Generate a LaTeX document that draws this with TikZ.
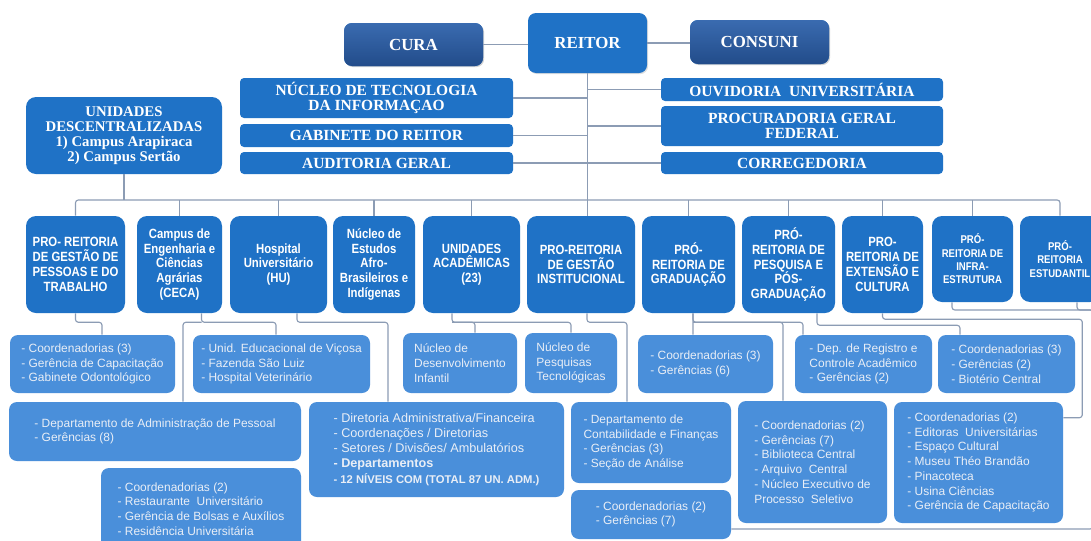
\documentclass[tikz,border=0pt]{standalone}
\usepackage{fontspec}
\setmainfont{Liberation Serif}
\newfontfamily\headfont{Liberation Sans}[FakeStretch=0.85]
\newfontfamily\subfont{Liberation Sans}
\usetikzlibrary{calc,shadows}
\definecolor{topblue}{HTML}{1F72C6}
\definecolor{subblue}{HTML}{4A8FDA}
\definecolor{councillight}{HTML}{3A6BB0}
\definecolor{councildark}{HTML}{224C8A}
\definecolor{linkgray}{HTML}{8C9CB4}
\definecolor{subtext}{HTML}{E9EEF6}
\tikzset{
  wh/.style 2 args={minimum width=#1*0.025cm, minimum height=#2*0.025cm},
  topbox/.style={fill=topblue, rounded corners=2mm, text=white, align=center, inner sep=1pt, font=\bfseries\fontsize{11}{10.5}\selectfont},
  councilbox/.style={topbox, top color=councillight, bottom color=councildark, drop shadow={opacity=0.35, shadow xshift=0.8pt, shadow yshift=-0.8pt}, font=\bfseries\fontsize{12}{12}\selectfont},
  barbox/.style={topbox, rounded corners=1mm},
  unitbox/.style={fill=topblue, rounded corners=2.5mm, text=white, align=center, inner sep=1pt, font=\headfont\bfseries\fontsize{9.5}{10.5}\selectfont},
  subbox/.style={fill=subblue, rounded corners=2mm, text=subtext, align=left, inner sep=1pt, font=\subfont\fontsize{8.5}{10.5}\selectfont},
  link/.style={draw=linkgray, line width=0.8pt, rounded corners=2pt}
}
\begin{document}
\begin{tikzpicture}[x=0.025cm, y=-0.025cm]
  \useasboundingbox (0,0) rectangle (1091,540);
  \fill[white] (0,0) rectangle (1091,540);
  \clip (0,0) rectangle (1091,540);

  % councils and rector
  \node[councilbox, wh={139}{43}] (cura) at (413.5,44.5) {CURA};
  \node[topbox, wh={119}{60}, font=\bfseries\fontsize{12}{12}\selectfont, drop shadow={opacity=0.25, shadow xshift=0.8pt, shadow yshift=-0.8pt}] (reitor) at (587.5,43) {REITOR};
  \node[councilbox, wh={139}{44}] (consuni) at (759.5,42) {CONSUNI};

  % staff organs
  \node[barbox, wh={273}{40}] (nti) at (376.5,98) {NÚCLEO DE TECNOLOGIA\\DA INFORMAÇAO};
  \node[barbox, wh={273}{23}] (gab) at (376.5,135.5) {GABINETE DO REITOR};
  \node[barbox, wh={273}{22}] (aud) at (376.5,163) {AUDITORIA GERAL};
  \node[barbox, wh={282}{23}] (ouv) at (802,89.5) {OUVIDORIA\ \ UNIVERSITÁRIA};
  \node[barbox, wh={282}{40}] (proc) at (802,126) {PROCURADORIA GERAL\\FEDERAL};
  \node[barbox, wh={282}{22}] (corr) at (802,163) {CORREGEDORIA};
  \node[topbox, wh={196}{77}, rounded corners=2.5mm, font=\bfseries\fontsize{10.5}{10.7}\selectfont] (unides) at (124,135.5) {UNIDADES\\DESCENTRALIZADAS\\1) Campus Arapiraca\\2) Campus Sertão};

  % units
  \node[unitbox, wh={99}{97}] (progep) at (75.5,264.5) {PRO- REITORIA\\DE GESTÃO DE\\PESSOAS E DO\\TRABALHO};
  \node[unitbox, wh={85}{97}] (ceca) at (179.5,264.5) {Campus de\\Engenharia e\\Ciências\\Agrárias\\(CECA)};
  \node[unitbox, wh={97}{97}] (hu) at (278.5,264.5) {Hospital\\Universitário\\(HU)};
  \node[unitbox, wh={82}{97}] (neabi) at (374,264.5) {Núcleo de\\Estudos\\Afro-\\Brasileiros e\\Indígenas};
  \node[unitbox, wh={97}{97}] (ua) at (471.5,264.5) {UNIDADES\\ACADÊMICAS\\(23)};
  \node[unitbox, wh={108}{97}] (proginst) at (581,264.5) {PRO-REITORIA\\DE GESTÃO\\INSTITUCIONAL};
  \node[unitbox, wh={93}{97}] (prograd) at (688.5,264.5) {PRÓ-\\REITORIA DE\\GRADUAÇÃO};
  \node[unitbox, wh={93}{97}] (propep) at (788.5,264.5) {PRÓ-\\REITORIA DE\\PESQUISA E\\PÓS-\\GRADUAÇÃO};
  \node[unitbox, wh={81}{97}] (proex) at (882.5,264.5) {PRO-\\REITORIA DE\\EXTENSÃO E\\CULTURA};
  \node[unitbox, wh={81}{86}, font=\headfont\bfseries\fontsize{8}{9.5}\selectfont] (pinfra) at (972.5,259) {PRÓ-\\REITORIA DE\\INFRA-\\ESTRUTURA};
  \node[unitbox, wh={80}{86}, font=\headfont\bfseries\fontsize{8}{9.5}\selectfont] (proest) at (1060,259) {PRÓ-\\REITORIA\\ESTUDANTIL};

  % sub-units
  \node[subbox, wh={165}{58}] (progepa) at (92.5,364) {- Coordenadorias (3)\\- Gerência de Capacitação\\- Gabinete Odontológico};
  \node[subbox, wh={177}{58}] (cecaa) at (281.5,364) {- Unid. Educacional de Viçosa\\- Fazenda São Luiz\\- Hospital Veterinário};
  \node[subbox, wh={114}{60}] (ndi) at (460,363) {Núcleo de\\Desenvolvimento\\Infantil};
  \node[subbox, wh={92}{60}] (npt) at (571,363) {Núcleo de\\Pesquisas\\Tecnológicas};
  \node[subbox, wh={135}{58}] (coord36) at (705.5,364) {- Coordenadorias (3)\\- Gerências (6)};
  \node[subbox, wh={137}{58}] (drca) at (863.5,364) {- Dep. de Registro e\\Controle Acadêmico\\- Gerências (2)};
  \node[subbox, wh={137}{58}] (biot) at (1006.5,364) {- Coordenadorias (3)\\- Gerências (2)\\- Biotério Central};

  \node[subbox, wh={292}{59}] (progepb) at (155,431.5) {- Departamento de Administração de Pessoal\\- Gerências (8)};
  \node[subbox, wh={255}{95}, font=\subfont\fontsize{9}{10.7}\selectfont] (hudir) at (436.5,449.5) {- Diretoria Administrativa/Financeira\\- Coordenações / Diretorias\\- Setores / Divisões/ Ambulatórios\\\textbf{- Departamentos}\\{\bfseries\fontsize{8}{10.7}\selectfont - 12 NÍVEIS COM (TOTAL 87 UN. ADM.)}};
  \node[subbox, wh={160}{81}] (dcf) at (651,442.5) {- Departamento de\\Contabilidade e Finanças\\- Gerências (3)\\- Seção de Análise};
  \node[subbox, wh={160}{49}] (cg7) at (651,514.5) {- Coordenadorias (2)\\- Gerências (7)};
  \node[subbox, wh={149}{122}] (bib) at (812.5,462) {- Coordenadorias (2)\\- Gerências (7)\\- Biblioteca Central\\- Arquivo\ \ Central\\- Núcleo Executivo de\\Processo\ \ Seletivo};
  \node[subbox, wh={169}{121}] (edit) at (978.5,462.5) {- Coordenadorias (2)\\- Editoras\ \ Universitárias\\- Espaço Cultural\\- Museu Théo Brandão\\- Pinacoteca\\- Usina Ciências\\- Gerência de Capacitação};
  \node[subbox, wh={200}{82}] (rest) at (201,509) {- Coordenadorias (2)\\- Restaurante\ \ Universitário\\- Gerência de Bolsas e Auxílios\\- Residência Universitária};

  % top connectors
  \draw[link] (cura.east) -- (cura.east -| reitor.west);
  \draw[link] (reitor.east) -- (reitor.east -| consuni.west);
  \draw[link] (reitor.south) -- (reitor.south |- proginst.north);
  \foreach \b in {nti,gab,aud}
    \draw[link] (\b.east) -- (\b.east -| reitor.south);
  \foreach \b in {ouv,proc,corr}
    \draw[link] (\b.west) -- (\b.west -| reitor.south);

  % bus to the units
  \coordinate (bus) at (587,200);
  \draw[link] (progep.north) |- (bus) -| (proest.north);
  \draw[link] (unides.south) -- (unides.south |- bus);
  \foreach \u in {ceca,hu,neabi,ua,prograd,propep,proex,pinfra}
    \draw[link] (\u.north) -- (\u.north |- bus);

  % units to sub-units
  \draw[link] (progep.south) -- ++(0,9) -| ($(progepa.north)+(9.5,0)$);
  \draw[link] ($(ceca.south)+(22,0)$) -- ++(0,9) -| ($(cecaa.north)+(-5.5,0)$);
  \draw[link] ($(progepb.north)+(28,0)$) |- ($(ceca.south)+(22,9)$);
  \draw[link] ($(hu.south)+(18.5,0)$) -- ++(0,9) -| ($(hudir.north)+(-48.5,0)$);
  \draw[link] ($(ua.south)+(-19.5,0)$) -- ++(0,9) -| (npt.north);
  \draw[link] ($(ndi.north)+(15,0)$) |- ($(ua.south)+(-19.5,9)$);
  \draw[link] ($(proginst.south)+(6,0)$) -- ++(0,9) -| ($(dcf.north)+(-24,0)$);
  \draw[link] ($(prograd.south)+(4.5,0)$) -- ($(coord36.north)+(-12.5,0)$);
  \draw[link] ($(prograd.south)+(4.5,0)$) -- ++(0,9) -| ($(bib.north)+(-29.5,0)$);
  \draw[link] ($(drca.north)+(-60.5,0)$) |- ($(prograd.south)+(4.5,9)$);
  \draw[link] ($(propep.south)+(28.5,0)$) -- ++(0,12) -| ($(biot.north)+(-46.5,0)$);
  \draw[link] (proex.south) -- ++(0,6) -| ($(edit.north east)+(19,16)$) -- ($(edit.north east)+(0,16)$);
  \coordinate (rbus) at (1093,310);
  \draw[link] ($(pinfra.south)+(-20.5,0)$) |- (rbus) |- ($(cg7.east)+(0,14.5)$);
  \draw[link] ($(proest.south)+(17,0)$) |- (rbus);
\end{tikzpicture}
\end{document}
